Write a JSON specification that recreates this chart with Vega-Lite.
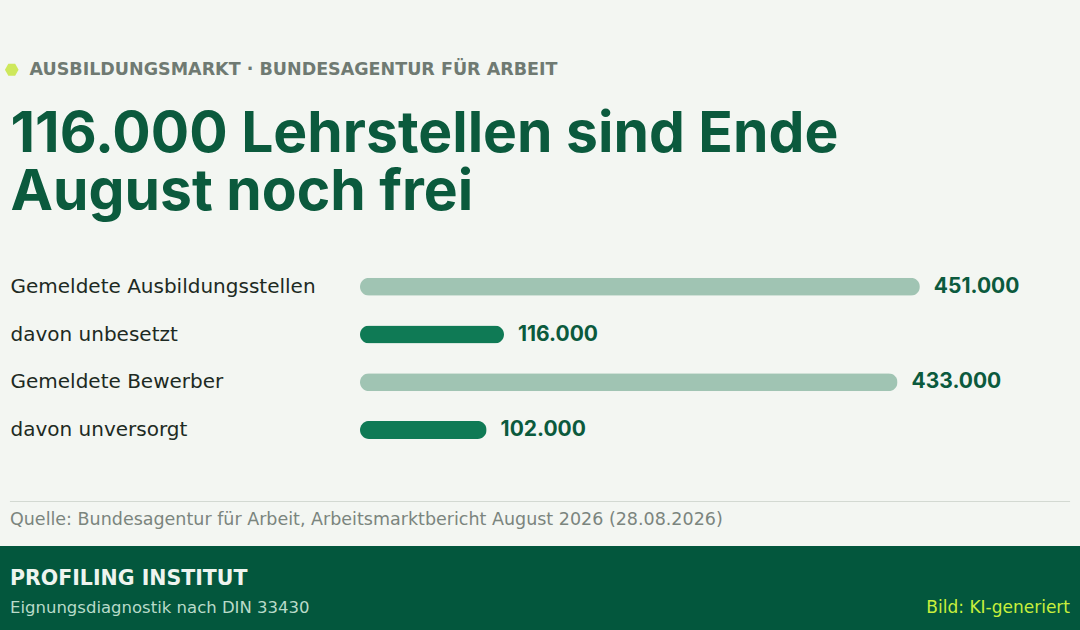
{
  "$schema": "https://vega.github.io/schema/vega-lite/v6.json",
  "background": "#f3f6f2",
  "padding": {"top": 61, "left": 0, "right": 0, "bottom": 0},
  "spacing": 8,
  "config": {
    "view": {"stroke": null},
    "font": "Inter",
    "axis": {"grid": false},
    "locale": {"number": {"decimal": ",", "thousands": ".", "grouping": [3], "currency": ["", " €"]}}
  },
  "vconcat": [
    {
      "width": 1080,
      "height": 238.5,
      "data": {"values": [
        {"kategorie": "Gemeldete Ausbildungsstellen", "anzahl": 451000, "typ": "gesamt"},
        {"kategorie": "davon unbesetzt", "anzahl": 116000, "typ": "davon"},
        {"kategorie": "Gemeldete Bewerber", "anzahl": 433000, "typ": "gesamt"},
        {"kategorie": "davon unversorgt", "anzahl": 102000, "typ": "davon"}
      ]},
      "encoding": {
        "y": {
          "field": "kategorie", "type": "nominal",
          "scale": {"domain": ["Gemeldete Ausbildungsstellen", "davon unbesetzt", "Gemeldete Bewerber", "davon unversorgt", "Trennlinie"], "paddingInner": 0, "paddingOuter": 0},
          "axis": {
            "values": ["Gemeldete Ausbildungsstellen", "davon unbesetzt", "Gemeldete Bewerber", "davon unversorgt"],
            "title": null, "domain": false, "ticks": false, "tickSize": 0,
            "labelAlign": "left", "labelPadding": -10, "labelFontSize": 20,
            "labelColor": "#1d2a23", "labelFont": "DejaVu Sans", "labelLimit": 0
          }
        },
        "x": {
          "field": "anzahl", "type": "quantitative",
          "scale": {"domain": [-290000, 580000], "nice": false, "zero": false},
          "axis": {
            "orient": "top",
            "title": ["116.000 Lehrstellen sind Ende", "August noch frei"],
            "labels": false, "ticks": false, "domain": false, "grid": false,
            "titleFont": "Inter", "titleFontSize": 57, "titleFontWeight": 700,
            "titleColor": "#0b5a3d", "titleAnchor": "start", "titleAlign": "left",
            "titleBaseline": "alphabetic", "titleX": 10, "titleY": -112, "titleLineHeight": 58
          }
        }
      },
      "layer": [
        {
          "mark": {"type": "bar", "height": 18, "cornerRadius": 9},
          "encoding": {
            "color": {
              "field": "typ", "type": "nominal",
              "scale": {"domain": ["gesamt", "davon"], "range": ["#a0c4b3", "#0f7a55"]},
              "legend": null
            }
          }
        },
        {
          "mark": {"type": "text", "align": "left", "baseline": "middle", "dx": 14, "fontSize": 21, "fontWeight": 700, "color": "#0b5a3d", "font": "Inter"},
          "encoding": {
            "text": {"field": "anzahl", "type": "quantitative", "format": ",.0f"}
          }
        },
        {
          "data": {"values": [{"kategorie": "Trennlinie", "anzahl": 0}]},
          "mark": {"type": "rule", "stroke": "#d3d9d2", "strokeWidth": 1.2},
          "encoding": {
            "y": {"field": "kategorie", "type": "nominal", "bandPosition": 1},
            "x": {"datum": -282000, "type": "quantitative"},
            "x2": {"datum": 572000}
          }
        },
        {
          "data": {"values": []},
          "mark": {"type": "point", "filled": true, "color": "#bde31c"},
          "encoding": {
            "shape": {
              "field": "kicker", "type": "nominal",
              "scale": {"domain": ["AUSBILDUNGSMARKT · BUNDESAGENTUR FÜR ARBEIT"], "range": ["M-1,0L-0.5,-0.866L0.5,-0.866L1,0L0.5,0.866L-0.5,0.866Z"]},
              "legend": {
                "orient": "top", "title": null, "direction": "horizontal",
                "labelFontSize": 17.5, "labelFontWeight": 700, "labelColor": "#6f7a72",
                "labelFont": "DejaVu Sans", "labelLimit": 0,
                "symbolSize": 185, "symbolFillColor": "#bde31c", "symbolStrokeWidth": 0,
                "symbolOffset": 3, "labelOffset": 9, "offset": 26, "padding": 0
              }
            }
          }
        }
      ]
    },
    {
      "width": 1080,
      "height": 85,
      "view": {"fill": "#03573d", "stroke": null},
      "title": {
        "text": "Quelle: Bundesagentur für Arbeit, Arbeitsmarktbericht August 2026 (28.08.2026)",
        "anchor": "start", "frame": "group", "dx": 10, "offset": 17.5,
        "fontSize": 17.5, "fontWeight": 400, "color": "#7b857e", "font": "DejaVu Sans"
      },
      "data": {"values": [
        {"text": "PROFILING INSTITUT", "seite": "links", "zeile": "oben"},
        {"text": "Eignungsdiagnostik nach DIN 33430", "seite": "links", "zeile": "unten"},
        {"text": "Bild: KI-generiert", "seite": "rechts", "zeile": "unten"}
      ]},
      "encoding": {
        "x": {"field": "seite", "type": "nominal", "scale": {"type": "point", "domain": ["links", "rechts"], "padding": 0.00943}, "axis": null},
        "y": {"field": "zeile", "type": "nominal", "scale": {"type": "point", "domain": ["oben", "unten"], "padding": 1.2708, "align": 0.6885}, "axis": null}
      },
      "layer": [
        {
          "transform": [{"filter": "datum.zeile == 'oben'"}],
          "mark": {"type": "text", "align": "left", "baseline": "alphabetic", "fontSize": 20.5, "fontWeight": 700, "color": "#eef4ef", "font": "DejaVu Sans"},
          "encoding": {"text": {"field": "text"}}
        },
        {
          "transform": [{"filter": "datum.zeile == 'unten' && datum.seite == 'links'"}],
          "mark": {"type": "text", "align": "left", "baseline": "alphabetic", "fontSize": 16.5, "fontWeight": 400, "color": "#b9dbc9", "font": "DejaVu Sans"},
          "encoding": {"text": {"field": "text"}}
        },
        {
          "transform": [{"filter": "datum.seite == 'rechts'"}],
          "mark": {"type": "text", "align": "right", "baseline": "alphabetic", "fontSize": 17, "fontWeight": 400, "color": "#c8ef3c", "font": "DejaVu Sans"},
          "encoding": {"text": {"field": "text"}}
        }
      ]
    }
  ]
}
